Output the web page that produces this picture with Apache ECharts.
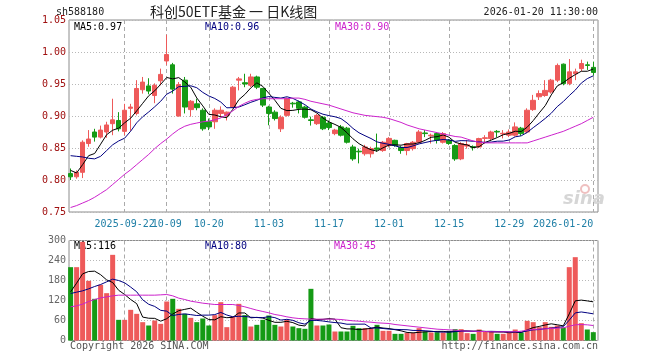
<!DOCTYPE html>
<html><head><meta charset="utf-8">
<script src="https://cdn.jsdelivr.net/npm/echarts@6/dist/echarts.min.js"></script>
<style>html,body{margin:0;padding:0;background:#fff}#c{width:660px;height:360px}</style>
</head><body><div id="c"></div>
<script>
const dates = [
'2025-09-09','2025-09-10','2025-09-11','2025-09-12','2025-09-15','2025-09-16','2025-09-17','2025-09-18','2025-09-19',
'2025-09-22','2025-09-23','2025-09-24','2025-09-25','2025-09-26','2025-09-29','2025-09-30',
'2025-10-09','2025-10-10','2025-10-13','2025-10-14','2025-10-15','2025-10-16','2025-10-17','2025-10-20','2025-10-21',
'2025-10-22','2025-10-23','2025-10-24','2025-10-27','2025-10-28','2025-10-29','2025-10-30','2025-10-31',
'2025-11-03','2025-11-04','2025-11-05','2025-11-06','2025-11-07','2025-11-10','2025-11-11','2025-11-12','2025-11-13','2025-11-14',
'2025-11-17','2025-11-18','2025-11-19','2025-11-20','2025-11-21','2025-11-24','2025-11-25','2025-11-26','2025-11-27','2025-11-28',
'2025-12-01','2025-12-02','2025-12-03','2025-12-04','2025-12-05','2025-12-08','2025-12-09','2025-12-10','2025-12-11','2025-12-12',
'2025-12-15','2025-12-16','2025-12-17','2025-12-18','2025-12-19','2025-12-22','2025-12-23','2025-12-24','2025-12-25','2025-12-26',
'2025-12-29','2025-12-30','2025-12-31',
'2026-01-05','2026-01-06','2026-01-07','2026-01-08','2026-01-09','2026-01-12','2026-01-13','2026-01-14','2026-01-15','2026-01-16',
'2026-01-19','2026-01-20'];
const tickIdx = [9,16,23,33,43,53,63,73,87];
const tickText = ['2025-09-22','10-09','10-20','11-03','11-17','12-01','12-15','12-29','2026-01-20'];

const openP = [0.810,0.805,0.812,0.857,0.875,0.867,0.875,0.888,0.893,0.876,
0.912,0.904,0.941,0.947,0.932,0.955,0.986,0.980,0.900,0.956,
0.910,0.919,0.909,0.891,0.891,0.904,0.901,0.914,0.956,0.952,
0.948,0.961,0.943,0.914,0.906,0.880,0.901,0.920,0.922,0.914,
0.894,0.888,0.898,0.889,0.8725,0.883,0.881,0.8516,0.845,0.841,
0.841,0.850,0.846,0.854,0.862,0.851,0.846,0.849,0.859,0.8735,
0.869,0.8725,0.859,0.862,0.854,0.833,0.853,0.852,0.8516,0.865,
0.8647,0.876,0.872,0.870,0.870,0.881,0.875,0.910,0.930,0.932,
0.9375,0.956,0.981,0.9506,0.966,0.974,0.980,0.976];
const closeP = [0.805,0.812,0.859,0.864,0.867,0.878,0.886,0.894,0.880,0.909,
0.914,0.943,0.953,0.939,0.948,0.965,0.996,0.942,0.949,0.914,
0.923,0.913,0.880,0.883,0.909,0.909,0.906,0.945,0.958,0.950,
0.961,0.945,0.917,0.904,0.896,0.898,0.927,0.919,0.912,0.898,
0.893,0.901,0.880,0.882,0.878,0.870,0.859,0.833,0.844,0.8516,
0.849,0.848,0.859,0.865,0.854,0.846,0.857,0.859,0.875,0.8725,
0.870,0.862,0.8725,0.857,0.833,0.857,0.855,0.851,0.8647,0.866,
0.875,0.875,0.873,0.875,0.883,0.8725,0.909,0.9245,0.935,0.940,
0.956,0.979,0.9506,0.969,0.969,0.982,0.979,0.968];
const lowP = [0.800,0.802,0.803,0.852,0.860,0.865,0.866,0.870,0.876,0.870,
0.877,0.901,0.935,0.934,0.920,0.948,0.980,0.935,0.899,0.904,
0.899,0.909,0.877,0.878,0.880,0.898,0.893,0.912,0.940,0.945,
0.945,0.942,0.914,0.8855,0.893,0.875,0.899,0.913,0.904,0.896,
0.885,0.886,0.878,0.878,0.870,0.868,0.857,0.830,0.826,0.838,
0.835,0.844,0.844,0.851,0.852,0.841,0.8386,0.846,0.857,0.867,
0.857,0.857,0.857,0.855,0.830,0.831,0.849,0.846,0.850,0.857,
0.862,0.867,0.865,0.867,0.868,0.869,0.873,0.908,0.925,0.930,
0.935,0.953,0.948,0.948,0.956,0.970,0.972,0.963];
const highP = [0.818,0.815,0.862,0.878,0.880,0.885,0.891,0.927,0.906,0.919,
0.919,0.956,0.961,0.959,0.951,0.974,1.027,0.983,0.953,0.961,
0.925,0.927,0.912,0.896,0.912,0.915,0.907,0.947,0.961,0.966,
0.966,0.963,0.944,0.916,0.909,0.901,0.929,0.922,0.924,0.916,
0.899,0.903,0.900,0.893,0.880,0.886,0.883,0.855,0.849,0.855,
0.852,0.8725,0.861,0.867,0.863,0.853,0.858,0.861,0.878,0.878,
0.8725,0.875,0.875,0.864,0.856,0.859,0.862,0.854,0.866,0.870,
0.877,0.878,0.878,0.879,0.890,0.883,0.912,0.933,0.940,0.956,
0.958,0.982,0.982,0.989,0.974,0.988,0.985,0.985];
const ma5 = [0.815,0.811,0.824,0.838,0.8414,0.856,0.8708,0.8778,0.881,0.8894,
0.8966,0.908,0.9198,0.9316,0.9394,0.9496,0.9602,0.958,0.960,0.9532,
0.9448,0.9282,0.9158,0.9026,0.9016,0.8988,0.8974,0.9104,0.9254,0.9336,
0.944,0.9518,0.9462,0.9354,0.9246,0.912,0.9084,0.9088,0.9104,0.9108,
0.9098,0.9046,0.8968,0.8908,0.8868,0.8822,0.8738,0.8644,0.8568,0.8515,
0.8473,0.8451,0.8503,0.8545,0.855,0.8544,0.8562,0.8562,0.8582,0.8619,
0.8667,0.8677,0.8704,0.8668,0.8589,0.8563,0.8549,0.8506,0.8521,0.8587,
0.8623,0.8663,0.8707,0.8728,0.8762,0.8757,0.8825,0.8928,0.9048,0.9162,
0.9329,0.9469,0.9521,0.9589,0.9647,0.9699,0.9699,0.9734];
const ma10 = [0.838,0.837,0.836,0.834,0.833,0.837,0.846,0.855,0.861,0.8654,
0.8763,0.8894,0.8988,0.9063,0.9144,0.9231,0.9341,0.9389,0.9458,0.9463,
0.9472,0.9442,0.9369,0.9313,0.9274,0.9218,0.9128,0.9131,0.914,0.9176,
0.9214,0.9246,0.9283,0.9304,0.9291,0.928,0.9301,0.9275,0.9229,0.9177,
0.9109,0.9065,0.9028,0.9006,0.8988,0.896,0.8892,0.8806,0.8738,0.8692,
0.8648,0.8595,0.8574,0.8557,0.8533,0.8509,0.8507,0.8533,0.8564,0.8585,
0.8606,0.862,0.8633,0.8625,0.8604,0.8615,0.8613,0.8605,0.8595,0.8588,
0.8593,0.8606,0.8607,0.8625,0.8675,0.869,0.8744,0.8818,0.8888,0.8962,
0.9043,0.9147,0.9225,0.9319,0.9405,0.9514,0.9584,0.9628];
const ma30 = [0.757,0.760,0.764,0.768,0.773,0.779,0.785,0.793,0.801,0.809,
0.816,0.824,0.832,0.840,0.849,0.857,0.864,0.872,0.879,0.884,
0.887,0.889,0.891,0.892,0.894,0.897,0.902,0.908,0.915,0.920,
0.924,0.926,0.927,0.927,0.927,0.927,0.927,0.928,0.928,0.926,
0.923,0.921,0.919,0.917,0.914,0.911,0.908,0.905,0.903,0.901,
0.900,0.899,0.898,0.896,0.893,0.890,0.886,0.883,0.880,0.878,
0.876,0.874,0.872,0.870,0.868,0.867,0.864,0.861,0.859,0.858,
0.858,0.858,0.858,0.858,0.858,0.858,0.858,0.861,0.864,0.867,
0.870,0.873,0.876,0.880,0.884,0.888,0.893,0.898];
const volume = [220,220,296,179,125,167,142,257,62,62,
92,80,55,45,60,50,117,125,95,80,
68,55,66,45,76,115,40,72,110,76,
42,47,62,75,47,42,62,42,37,35,
155,45,45,48,27,27,27,44,37,37,
37,47,29,29,20,20,23,23,37,27,
24,25,24,29,34,34,22,20,33,27,
27,20,20,23,33,24,59,55,40,55,
41,45,39,220,250,52,33,25];
const vma5 = [146,172,200,207,208,197.4,181.8,174,150.6,138,
123,110.6,70.2,66.8,66.4,58,65.4,79.4,89.4,93.4,
97,84.6,72.8,62.8,62,71.4,68.4,69.6,82.6,82.6,
68,69.4,67.4,60.4,54.6,54.6,57.6,53.6,46,43.6,
66.2,62.8,63.4,65.6,64,38.4,34.8,34.6,32.4,34.4,
36.4,40.4,37.4,35.8,32.4,29,24.2,23,24.6,26,
26.8,27.2,27.4,25.8,27.2,29.2,28.6,27.8,28.6,27.2,
25.8,25.4,25.4,23.4,24.6,24,31.8,38.8,42.2,46.6,
50,47.2,44,80,119,121.2,118.8,116];
const vma10 = [141,145,149,155,162,168,176,184,180,173,
160.2,146.2,122.1,108.7,102.2,90.5,88,74.8,78.1,79.9,
77.5,75,76.1,76.1,77.7,84.2,76.5,71.2,72.7,72.3,
69.7,68.9,68.5,71.5,68.6,61.3,63.5,60.5,53.2,49.1,
60.4,60.2,58.5,55.8,53.8,52.3,48.8,49,49,49.2,
37.4,37.6,36,34.1,33.4,32.7,32.3,30.2,30.2,29.2,
27.9,25.7,25.2,25.2,26.6,28,27.9,27.6,27.2,27.2,
27.5,27,26.6,26,25.9,24.9,28.6,32.1,32.8,35.6,
37,39.5,41.4,61.1,82.8,85.6,83,80];
const vma30 = [101,104,109,117,123,128,131,134,136,136,
136,136,136,136,136,137,138,134,127,123,
118,115,112,110,108,108,108,108,105,101,
96,91,87,83,78,75,71,68,66,65,
64,64,64,64,64,63,61,59,58,56,
55,53,52,51,48,46,44,42,40,38,
36,34,33,32,31,29,28,28,27,27,
26,26,26,26,26,28,31,33,34,35,
36,37,38,43,47,48,47,45];

const MONO = '"DejaVu Sans Mono", "Liberation Mono", monospace';
const CJK = '"Noto Sans CJK SC", "DejaVu Sans", sans-serif';
const UP = '#ee5a5a', DOWN = '#159a15';
const C_MA5 = '#000000', C_MA10 = '#000080', C_MA30 = '#cc22cc';
const tickSet = new Set(tickIdx);
const showTick = (i) => tickSet.has(i);
// alternate labels between two axes so that neighbouring labels never get auto-hidden
const tickA = new Set(tickIdx.filter((v, k) => k % 2 === 0));
const tickB = new Set(tickIdx.filter((v, k) => k % 2 === 1));
const labelFor = (v, i) => tickText[tickIdx.indexOf(i)];
const last = (a) => a[a.length - 1];

const candles = dates.map((d, i) => [openP[i], closeP[i], lowP[i], highP[i]]);
const volData = volume.map((v, i) => ({ value: v, itemStyle: { color: closeP[i] >= openP[i] ? UP : DOWN } }));

const X0 = 70.6, XW = 522.7;
const PT = 20, PH = 192, VT = 240.5, VH = 100;
const gridLine = { color: '#b8b8b8', type: [1, 2], width: 1 };
const dashLine = { color: '#aaaaaa', type: [4, 3], width: 1 };
const xLabel = { color: '#1f7fa6', fontFamily: MONO, fontSize: 10, margin: 7, hideOverlap: false,
  showMinLabel: true, showMaxLabel: true, formatter: labelFor };

function line(name, data, color, xi, yi) {
  return { name, type: 'line', data, xAxisIndex: xi, yAxisIndex: yi, showSymbol: false, symbol: 'none',
    lineStyle: { color, width: 1 }, itemStyle: { color }, silent: true, z: 3 };
}

const chart = echarts.init(document.getElementById('c'), null, { renderer: 'canvas' });
chart.setOption({
  animation: false,
  backgroundColor: '#ffffff',
  grid: [
    { left: 69, top: PT, width: 529, height: PH, show: true, borderColor: '#8c8c8c', borderWidth: 1 },
    { left: X0, top: PT, width: XW, height: PH },
    { left: 69, top: VT, width: 529, height: VH, show: true, borderColor: '#8c8c8c', borderWidth: 1 },
    { left: X0, top: VT, width: XW, height: VH }
  ],
  xAxis: [
    { gridIndex: 0, type: 'value', min: 0, max: 1, show: false },
    { gridIndex: 1, type: 'category', data: dates, boundaryGap: false,
      axisLine: { show: false }, axisTick: { show: false },
      axisLabel: Object.assign({}, xLabel, { interval: (i) => tickA.has(i), alignMaxLabel: 'right' }),
      splitLine: { show: true, interval: showTick, lineStyle: dashLine } },
    { gridIndex: 2, type: 'value', min: 0, max: 1, show: false },
    { gridIndex: 3, type: 'category', data: dates, boundaryGap: false,
      axisLine: { show: false }, axisTick: { show: false }, axisLabel: { show: false },
      splitLine: { show: true, interval: showTick, lineStyle: dashLine } },
    { gridIndex: 1, type: 'category', data: dates, boundaryGap: false, position: 'bottom',
      axisLine: { show: false }, axisTick: { show: false }, splitLine: { show: false },
      axisLabel: Object.assign({}, xLabel, { interval: (i) => tickB.has(i) }) }
  ],
  yAxis: [
    { gridIndex: 0, type: 'value', min: 0.75, max: 1.05, interval: 0.05,
      axisLine: { show: false }, axisTick: { show: false },
      axisLabel: { color: '#a01010', fontFamily: MONO, fontSize: 10, margin: 3, formatter: (v) => v.toFixed(2) },
      splitLine: { show: true, lineStyle: gridLine } },
    { gridIndex: 1, type: 'value', min: 0.75, max: 1.05, show: false, splitLine: { show: false } },
    { gridIndex: 2, type: 'value', min: 0, max: 300, interval: 60,
      axisLine: { show: false }, axisTick: { show: false },
      axisLabel: { color: '#666666', fontFamily: MONO, fontSize: 10, margin: 3 },
      splitLine: { show: true, lineStyle: gridLine } },
    { gridIndex: 3, type: 'value', min: 0, max: 300, show: false, splitLine: { show: false } }
  ],
  series: [
    { name: 'K', type: 'candlestick', data: candles, xAxisIndex: 1, yAxisIndex: 1, barWidth: 5, clip: false,
      itemStyle: { color: UP, color0: DOWN, borderColor: UP, borderColor0: DOWN, borderWidth: 1 }, z: 2 },
    line('MA5', ma5, C_MA5, 1, 1),
    line('MA10', ma10, C_MA10, 1, 1),
    line('MA30', ma30, C_MA30, 1, 1),
    { name: 'VOL', type: 'bar', data: volData, xAxisIndex: 3, yAxisIndex: 3, barWidth: 5, z: 2 },
    line('VMA5', vma5, C_MA5, 3, 3),
    line('VMA10', vma10, C_MA10, 3, 3),
    line('VMA30', vma30, C_MA30, 3, 3)
  ],
  graphic: [
    { type: 'text', left: 56, top: 7, style: { text: 'sh588180', font: '10px ' + MONO, fill: '#222' } },
    { type: 'text', left: 150, top: 5, style: { text: '科创50ETF基金 一 日K线图', font: '14px ' + CJK, fill: '#222' } },
    { type: 'text', right: 62, top: 7, style: { text: '2026-01-20 11:30:00', font: '10px ' + MONO, fill: '#222' } },
    { type: 'text', left: 74, top: 22, style: { text: 'MA5:' + last(ma5).toFixed(2), font: '10px ' + MONO, fill: C_MA5 } },
    { type: 'text', left: 205, top: 22, style: { text: 'MA10:' + last(ma10).toFixed(2), font: '10px ' + MONO, fill: C_MA10 } },
    { type: 'text', left: 335, top: 22, style: { text: 'MA30:' + last(ma30).toFixed(2), font: '10px ' + MONO, fill: C_MA30 } },
    { type: 'text', left: 74, top: 241, style: { text: 'MA5:' + Math.round(last(vma5)), font: '10px ' + MONO, fill: C_MA5 } },
    { type: 'text', left: 205, top: 241, style: { text: 'MA10:' + Math.round(last(vma10)), font: '10px ' + MONO, fill: C_MA10 } },
    { type: 'text', left: 334, top: 241, style: { text: 'MA30:' + Math.round(last(vma30)), font: '10px ' + MONO, fill: C_MA30 } },
    { type: 'text', left: 70, top: 341, style: { text: 'Copyright 2026 SINA.COM', font: '10px ' + MONO, fill: '#555' } },
    { type: 'text', right: 62, top: 341, style: { text: 'http://finance.sina.com.cn', font: '10px ' + MONO, fill: '#555' } },
    { type: 'text', left: 563, top: 190, style: { text: 'sina', font: 'italic bold 18px "DejaVu Sans", sans-serif', fill: '#d6d6d6' } },
    { type: 'circle', shape: { cx: 585, cy: 189, r: 4 }, style: { fill: 'none', stroke: '#efc0c0', lineWidth: 2 } }
  ]
});
</script>
</body></html>
